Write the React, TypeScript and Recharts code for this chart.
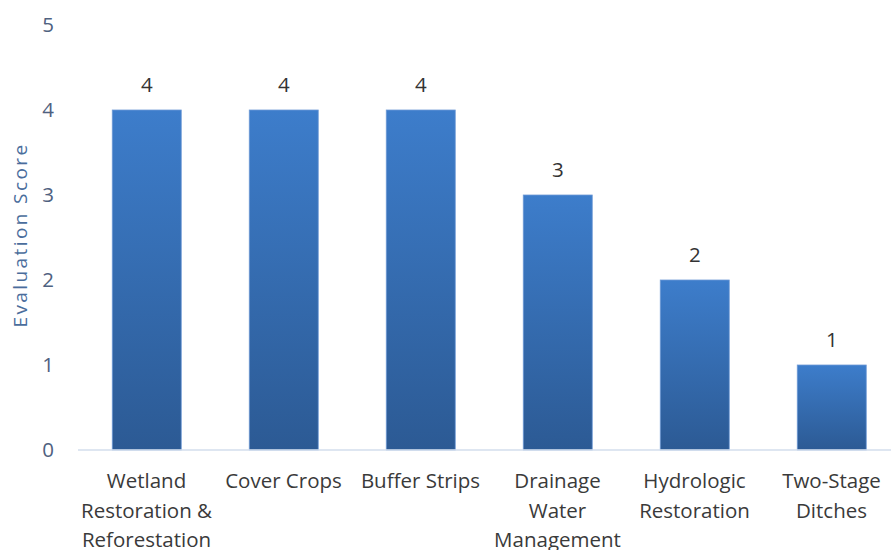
import { BarChart, Bar, XAxis, YAxis, LabelList } from 'recharts';

// category labels, already split the way the original wraps them
const practices = [
  'Wetland\nRestoration &\nReforestation',
  'Cover Crops',
  'Buffer Strips',
  'Drainage\nWater\nManagement',
  'Hydrologic\nRestoration',
  'Two-Stage\nDitches',
];
const scores = [4, 4, 4, 3, 2, 1];
const yTicks = [0, 1, 2, 3, 4, 5];

const data = practices.map((name, i) => ({ name, score: scores[i] }));

const FONT = '"Open Sans", sans-serif';

function CategoryTick(props: any) {
  const { x, y, payload } = props;
  const lines = String(payload.value).split('\n');
  return (
    <text x={x} y={y} textAnchor="middle" fill="#3a3a3a" fontSize={20.5} fontFamily={FONT}>
      {lines.map((l, i) => (
        <tspan key={i} x={x} dy={i === 0 ? 36 : 29.5}>
          {l}
        </tspan>
      ))}
    </text>
  );
}

function AxisTitle() {
  return (
    <text
      x={27}
      y={235}
      transform="rotate(-90 27 235)"
      textAnchor="middle"
      fill="#4a6d9c"
      fontSize={19}
      letterSpacing={2.4}
      fontFamily={FONT}
    >
      Evaluation Score
    </text>
  );
}

// gradient bar drawn from the rect recharts computes
function GradientBar(props: any) {
  const { x, y, width, height } = props;
  if (!height) return null;
  return (
    <g>
      <defs>
        <linearGradient id="barFill" x1="0" y1="0" x2="0" y2="1">
          <stop offset="0%" stopColor="#3d7dcb" />
          <stop offset="100%" stopColor="#2c5a94" />
        </linearGradient>
      </defs>
      <rect x={x} y={y} width={width} height={height} fill="url(#barFill)" stroke="#6f9ad6" strokeWidth={0.8} />
    </g>
  );
}

export default function App() {
  return (
    <div style={{ position: 'absolute', left: 0, top: 0, width: 891, height: 550, overflow: 'hidden', background: '#fff' }}>
      <BarChart
        width={900}
        height={550}
        data={data}
        margin={{ top: 25, right: 0, bottom: 0, left: 0 }}
        barCategoryGap="25%"
      >
        <XAxis
          dataKey="name"
          height={100}
          interval={0}
          tickLine={false}
          tickSize={0}
          axisLine={{ stroke: '#d3deed', strokeWidth: 1.5 }}
          tick={<CategoryTick />}
        />
        <YAxis
          width={78}
          domain={[0, 5]}
          ticks={yTicks}
          axisLine={false}
          tickLine={false}
          tickSize={0}
          tickMargin={24}
          tick={{ fill: '#4f6180', fontSize: 20.5, fontFamily: FONT }}
          label={<AxisTitle />}
        />
        <Bar dataKey="score" fill="#3a72b8" shape={<GradientBar />} isAnimationActive={false}>
          <LabelList dataKey="score" position="top" offset={18} fill="#333" fontSize={20.5} fontFamily={FONT} />
        </Bar>
      </BarChart>
    </div>
  );
}
